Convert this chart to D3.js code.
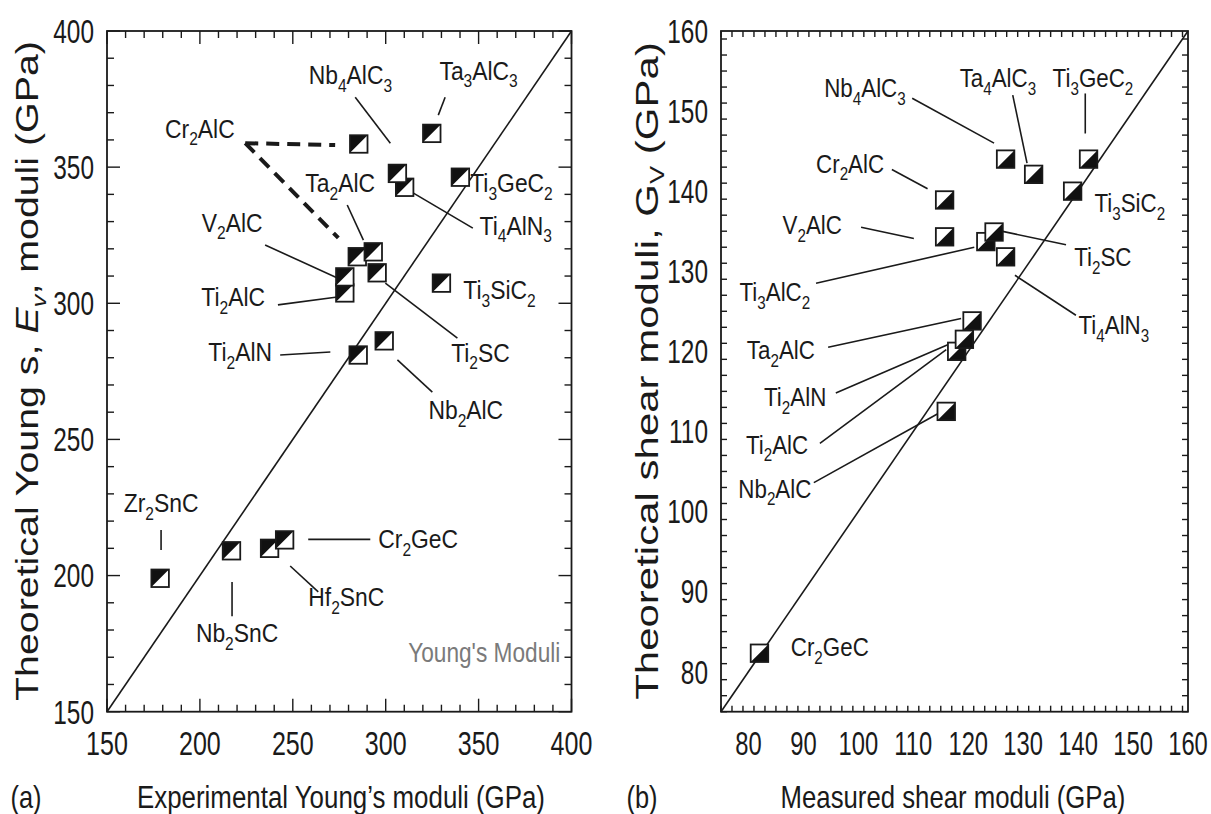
<!DOCTYPE html>
<html><head><meta charset="utf-8">
<script src="https://cdn.jsdelivr.net/npm/d3@7"></script>
<style>
body{margin:0;background:#fff}
svg{display:block}
text{font-family:"Liberation Sans",Arial,Helvetica,sans-serif;fill:#1a1a1a}
</style>
</head><body>
<svg id="c" width="1211" height="814"></svg>
<script>
// ---------- Panel (a): Young's moduli ----------
const youngNames = ["Zr2SnC","Nb2SnC","Hf2SnC","Cr2GeC","Ti2AlN","Nb2AlC","Ti2AlC","V2AlC","Ti2SC","Cr2AlC","Ta2AlC","Ti3SiC2","Ti4AlN3","Nb4AlC3","Ti3GeC2","Cr2AlC","Ta3AlC3"];
const youngExp  = [178.6, 217.0, 237.5, 245.6, 285.2, 299.2, 278.0, 278.0, 295.4, 284.7, 293.3, 330.0, 310.2, 306.3, 340.2, 285.5, 324.8];
const youngTheo = [199.0, 209.1, 210.0, 213.1, 281.0, 286.2, 303.8, 309.7, 311.2, 317.1, 318.9, 307.4, 342.6, 347.7, 346.3, 358.5, 362.4];
const youngTicks = [150, 200, 250, 300, 350, 400];

const aLabelText = ["Nb_4AlC_3","Ta_3AlC_3","Cr_2AlC","Ta_2AlC","Ti_3GeC_2","Ti_4AlN_3","V_2AlC","Ti_2AlC","Ti_3SiC_2","Ti_2AlN","Ti_2SC","Nb_2AlC","Zr_2SnC","Nb_2SnC","Hf_2SnC","Cr_2GeC"];
const aLabelX = [281.0, 350.0, 200.0, 275.5, 345.5, 350.5, 217.4, 217.9, 341.8, 221.7, 351.0, 343.1, 179.1, 220.0, 278.8, 296.0];
const aLabelY = [383.8, 385.6, 364.3, 344.2, 344.2, 328.7, 329.8, 302.3, 304.9, 282.1, 282.0, 260.8, 226.7, 178.9, 192.1, 213.5];
const aLabelAnchor = ["middle","middle","middle","middle","start","start","middle","middle","start","middle","middle","middle","middle","middle","middle","start"];
// leader lines in data units
const aLeadX1 = [283.6, 332.0, 242.0, 235.1, 310.6, 243.2, 299.8, 306.3, 179.1, 217.3, 248.6, 258.3, 279.3];
const aLeadY1 = [375.7, 375.7, 299.4, 321.4, 342.2, 281.0, 307.4, 279.2, 216.7, 197.6, 203.5, 213.3, 336.1];
const aLeadX2 = [302.5, 328.3, 274.0, 274.0, 346.9, 270.2, 338.6, 325.1, 179.1, 217.3, 263.7, 291.7, 288.0];
const aLeadY2 = [358.8, 369.1, 302.3, 309.3, 327.6, 282.1, 287.2, 267.4, 209.4, 185.1, 194.0, 213.3, 323.2];
// dashed Cr2AlC connectors
const aDashX1 = [224.4, 224.4];
const aDashY1 = [358.8, 358.8];
const aDashX2 = [272.8, 274.5];
const aDashY2 = [358.1, 324.0];

// ---------- Panel (b): shear moduli ----------
const shearNames = ["Cr2GeC","Nb2AlC","Ti2AlC","Ti2AlN","Ta2AlC","V2AlC","Cr2AlC","Ti4AlN3","Ti3AlC2","Ti2SC","Ti3SiC2","Nb4AlC3","Ta4AlC3","Ti3GeC2"];
const shearMeas = [82.0, 116.0, 117.9, 119.3, 120.7, 115.7, 115.7, 126.8, 123.2, 124.7, 139.0, 126.8, 131.9, 141.9];
const shearTheo = [82.3, 112.5, 120.0, 121.5, 123.8, 134.3, 138.9, 131.8, 133.7, 134.9, 140.0, 144.0, 142.1, 144.0];
const shearTicks = [80, 90, 100, 110, 120, 130, 140, 150, 160];

const bLabelText = ["Nb_4AlC_3","Ta_4AlC_3","Ti_3GeC_2","Cr_2AlC","V_2AlC","Ti_3AlC_2","Ti_2SC","Ti_3SiC_2","Ti_4AlN_3","Ta_2AlC","Ti_2AlN","Ti_2AlC","Nb_2AlC","Cr_2GeC"];
const bLabelX = [101.2, 125.4, 142.7, 98.5, 91.6, 84.8, 144.5, 149.4, 146.5, 85.9, 88.5, 85.2, 84.8, 94.8];
const bLabelY = [152.9, 154.2, 154.2, 143.5, 135.8, 127.4, 131.8, 138.6, 123.3, 120.2, 114.3, 108.4, 102.9, 83.1];
const bLeadX1 = [109.8, 128.1, 141.3, 106.1, 100.5, 92.3, 137.8, 139.6, 94.5, 95.9, 93.0, 91.9];
const bLeadY1 = [151.6, 152.0, 152.2, 142.7, 135.5, 128.5, 133.3, 124.5, 120.5, 114.8, 108.5, 103.6];
const bLeadX2 = [124.7, 130.7, 141.3, 112.6, 110.1, 121.1, 125.4, 128.5, 118.7, 116.9, 116.0, 114.7];
const bLeadY2 = [146.0, 143.5, 147.2, 140.3, 134.1, 133.0, 135.1, 129.5, 124.1, 121.0, 120.2, 112.3];

// ---------- drawing ----------
const svg = d3.select("#c");
const INK = "#1a1a1a";

function richText(parent, x, y, str, o = {}) {
  const size = o.size || 24, sx = o.sx || 0.88, anchor = o.anchor || "middle";
  const g = parent.append("g").attr("transform", `translate(${x},${y}) scale(${sx},1)`);
  const t = g.append("text").attr("text-anchor", anchor).attr("font-size", size)
    .attr("y", size * 0.36).style("fill", o.fill || INK);
  const parts = str.split(/(_[^_])/);
  let sub = false;
  parts.forEach(p => {
    if (!p) return;
    if (p[0] === "_") {
      t.append("tspan").attr("font-size", size * 0.68).attr("dy", sub ? 0 : size * 0.3).text(p.slice(1));
      sub = true;
    } else {
      t.append("tspan").attr("dy", sub ? -size * 0.3 : 0).text(p);
      sub = false;
    }
  });
  return g;
}

function fitTitle(parent, x, y, rot, width, size, build) {
  const g = parent.append("g").attr("transform", `translate(${x},${y}) rotate(${rot})`);
  const inner = g.append("g");
  const t = inner.append("text").attr("text-anchor", "middle").attr("font-size", size).attr("y", size * 0.36);
  build(t, size);
  const len = t.node().getComputedTextLength();
  inner.attr("transform", `scale(${width / len},1)`);
}

function panel(cfg) {
  const g = svg.append("g");
  const x = d3.scaleLinear().domain(cfg.dom).range([cfg.x0, cfg.x1]);
  const y = d3.scaleLinear().domain(cfg.dom).range([cfg.y0, cfg.y1]);
  g.append("line").attr("x1", x(cfg.dom[0])).attr("y1", y(cfg.dom[0]))
    .attr("x2", x(cfg.dom[1])).attr("y2", y(cfg.dom[1]))
    .attr("stroke", INK).attr("stroke-width", 1.6);
  const minor = d3.range(cfg.dom[0], cfg.dom[1] + 1e-9, cfg.minor);
  const isMajor = v => Math.abs(v / cfg.major - Math.round(v / cfg.major)) < 1e-6;
  const tk = g.append("g").attr("stroke", INK).attr("stroke-width", 1.4);
  minor.forEach(v => {
    const L = isMajor(v) ? cfg.majLen : cfg.minLen;
    tk.append("line").attr("x1", x(v)).attr("x2", x(v)).attr("y1", cfg.y0).attr("y2", cfg.y0 - L);
    tk.append("line").attr("x1", x(v)).attr("x2", x(v)).attr("y1", cfg.y1).attr("y2", cfg.y1 + L);
    tk.append("line").attr("y1", y(v)).attr("y2", y(v)).attr("x1", cfg.x0).attr("x2", cfg.x0 + L);
    tk.append("line").attr("y1", y(v)).attr("y2", y(v)).attr("x1", cfg.x1).attr("x2", cfg.x1 - L);
  });
  g.append("rect").attr("x", cfg.x0).attr("y", cfg.y1).attr("width", cfg.x1 - cfg.x0).attr("height", cfg.y0 - cfg.y1)
    .attr("fill", "none").attr("stroke", INK).attr("stroke-width", 1.8);
  cfg.ticks.forEach(v => {
    richText(g, x(v), cfg.y0 + 31, String(v), {size: 33, sx: cfg.tsx});
    richText(g, cfg.x0 - 13, y(v), String(v), {size: 33, sx: 0.74, anchor: "end"});
  });
  return {g, x, y};
}

function markers(p, xs, ys, upperLeftBlack) {
  const s = 17.5;
  xs.forEach((xv, i) => {
    const cx = p.x(xv), cy = p.y(ys[i]);
    const L = cx - s / 2, R = cx + s / 2, T = cy - s / 2, B = cy + s / 2;
    p.g.append("rect").attr("x", L).attr("y", T).attr("width", s).attr("height", s).attr("fill", "#fff");
    const tri = upperLeftBlack ? [[L, T], [R, T], [L, B]] : [[R, T], [R, B], [L, B]];
    p.g.append("polygon").attr("points", tri.map(d => d.join(",")).join(" ")).attr("fill", "#111");
    p.g.append("rect").attr("x", L).attr("y", T).attr("width", s).attr("height", s)
      .attr("fill", "none").attr("stroke", INK).attr("stroke-width", 1.8);
  });
}

function leaders(p, x1, y1, x2, y2, dashed) {
  x1.forEach((v, i) => {
    p.g.append("line").attr("x1", p.x(v)).attr("y1", p.y(y1[i])).attr("x2", p.x(x2[i])).attr("y2", p.y(y2[i]))
      .attr("stroke", INK).attr("stroke-width", dashed ? 4 : 1.6)
      .attr("stroke-dasharray", dashed ? "13,8" : null);
  });
}

// Panel a
const pa = panel({dom: [150, 400], x0: 107, x1: 571.5, y0: 711.7, y1: 31, minor: 10, major: 50, majLen: 13, minLen: 7, ticks: youngTicks, tsx: 0.76});
leaders(pa, aLeadX1, aLeadY1, aLeadX2, aLeadY2, false);
leaders(pa, aDashX1, aDashY1, aDashX2, aDashY2, true);
markers(pa, youngExp, youngTheo, true);
aLabelText.forEach((t, i) => richText(pa.g, pa.x(aLabelX[i]), pa.y(aLabelY[i]), t, {size: 26, sx: 0.88, anchor: aLabelAnchor[i]}));
richText(pa.g, pa.x(394), pa.y(171.9), "Young's Moduli", {size: 27, sx: 0.84, anchor: "end", fill: "#7a7a7a"});

// Panel b
const pb = panel({dom: [75, 160], x0: 721, x1: 1188, y0: 711.7, y1: 31, minor: 2, major: 10, majLen: 11, minLen: 6, ticks: shearTicks, tsx: 0.72});
leaders(pb, bLeadX1, bLeadY1, bLeadX2, bLeadY2, false);
markers(pb, shearMeas, shearTheo, false);
bLabelText.forEach((t, i) => richText(pb.g, pb.x(bLabelX[i]), pb.y(bLabelY[i]), t, {size: 26, sx: 0.86}));

// Axis titles
fitTitle(svg, 341, 797, 0, 408, 31, t => t.text("Experimental Young\u2019s moduli (GPa)"));
fitTitle(svg, 953, 797, 0, 345, 31, t => t.text("Measured shear moduli (GPa)"));
fitTitle(svg, 27, 371, -90, 660, 31, (t, s) => {
  t.append("tspan").text("Theoretical Young s, ");
  t.append("tspan").style("font-style", "italic").text("E");
  t.append("tspan").style("font-style", "italic").attr("font-size", s * 0.65).attr("dy", s * 0.25).text("v");
  t.append("tspan").attr("dy", -s * 0.25).text(", moduli (GPa)");
});
fitTitle(svg, 647, 371, -90, 658, 31, (t, s) => {
  t.append("tspan").text("Theoretical shear moduli, G");
  t.append("tspan").attr("font-size", s * 0.65).attr("dy", s * 0.2).text("V");
  t.append("tspan").attr("dy", -s * 0.2).text(" (GPa)");
});
richText(svg, 26, 797, "(a)", {size: 31, sx: 0.82});
richText(svg, 642, 797, "(b)", {size: 31, sx: 0.82});
</script>
</body></html>
